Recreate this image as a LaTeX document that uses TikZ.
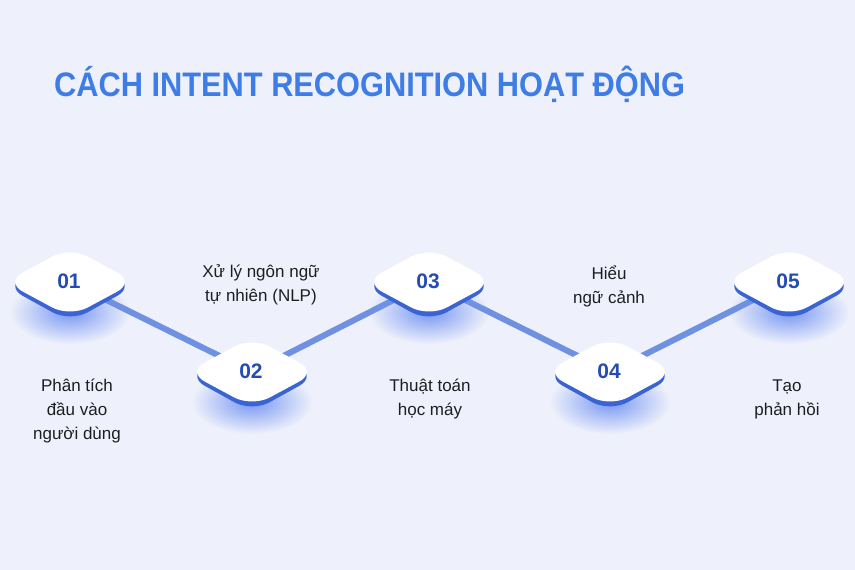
\documentclass[tikz,border=0pt]{standalone}
\usepackage{fontspec}
\setmainfont{Liberation Sans}
\usetikzlibrary{fadings}
\definecolor{bgc}{RGB}{238,241,251}
\definecolor{titlec}{RGB}{62,124,230}
\definecolor{numc}{RGB}{36,76,178}
\definecolor{edgec}{RGB}{58,100,212}
\definecolor{linec}{RGB}{112,144,226}
\definecolor{glowc}{RGB}{80,120,240}
\definecolor{txtc}{RGB}{30,30,34}
\tikzfading[name=glowfade, inner color=transparent!25, outer color=transparent!100]
\tikzset{
  lbl/.style={font=\fontsize{17}{24}\selectfont, text=txtc, align=center, inner sep=0pt},
  numlbl/.style={font=\fontsize{21}{24}\selectfont\bfseries, text=numc, inner sep=0pt},
  conn/.style={draw=linec, line width=6pt},
}
\newcommand{\diamondbox}[3]{%
  % #1 x, #2 y, #3 number
  \fill[edgec, rounded corners=20pt] (#1-65,#2+4) -- (#1,#2-31) -- (#1+65,#2+4) -- (#1,#2+40) -- cycle;
  \fill[white, rounded corners=20pt] (#1-65,#2) -- (#1,#2-35) -- (#1+65,#2) -- (#1,#2+35) -- cycle;
  \node[numlbl] (n#3) at (#1-1,#2-1) {0#3};
}
\begin{document}
\begin{tikzpicture}[x=1pt,y=-1pt]
\fill[bgc] (0,0) rectangle (855,570);
\useasboundingbox (0,0) rectangle (855,570);
% title
\node[anchor=west, inner sep=0pt, font=\fontsize{34}{40}\selectfont\bfseries, text=titlec] (title) at (54,84) {\scalebox{0.905}[1]{CÁCH INTENT RECOGNITION HOẠT ĐỘNG}};
% centres
\coordinate (c1) at (70,282);
\coordinate (c2) at (252,372);
\coordinate (c3) at (429,282);
\coordinate (c4) at (610,372);
\coordinate (c5) at (789,282);
% glows
\foreach \x/\y in {70/282,252/372,429/282,610/372,789/282}{
  \fill[glowc, path fading=glowfade] (\x,\y+30) ellipse [x radius=60, y radius=32];
}
% connectors
\draw[conn] (c1) -- (c2);
\draw[conn] (c2) -- (c3);
\draw[conn] (c3) -- (c4);
\draw[conn] (c4) -- (c5);
% diamonds
\diamondbox{70}{282}{1}
\diamondbox{252}{372}{2}
\diamondbox{429}{282}{3}
\diamondbox{610}{372}{4}
\diamondbox{789}{282}{5}
% labels
\node[lbl] (t1) at (77,411) {Phân tích\\đầu vào\\người dùng};
\node[lbl] (t2) at (261,285) {Xử lý ngôn ngữ\\tự nhiên (NLP)};
\node[lbl] (t3) at (430,399) {Thuật toán\\học máy};
\node[lbl] (t4) at (609,286) {Hiểu\\ngữ cảnh};
\node[lbl] (t5) at (787,399) {Tạo\\phản hồi};
\end{tikzpicture}
\end{document}
